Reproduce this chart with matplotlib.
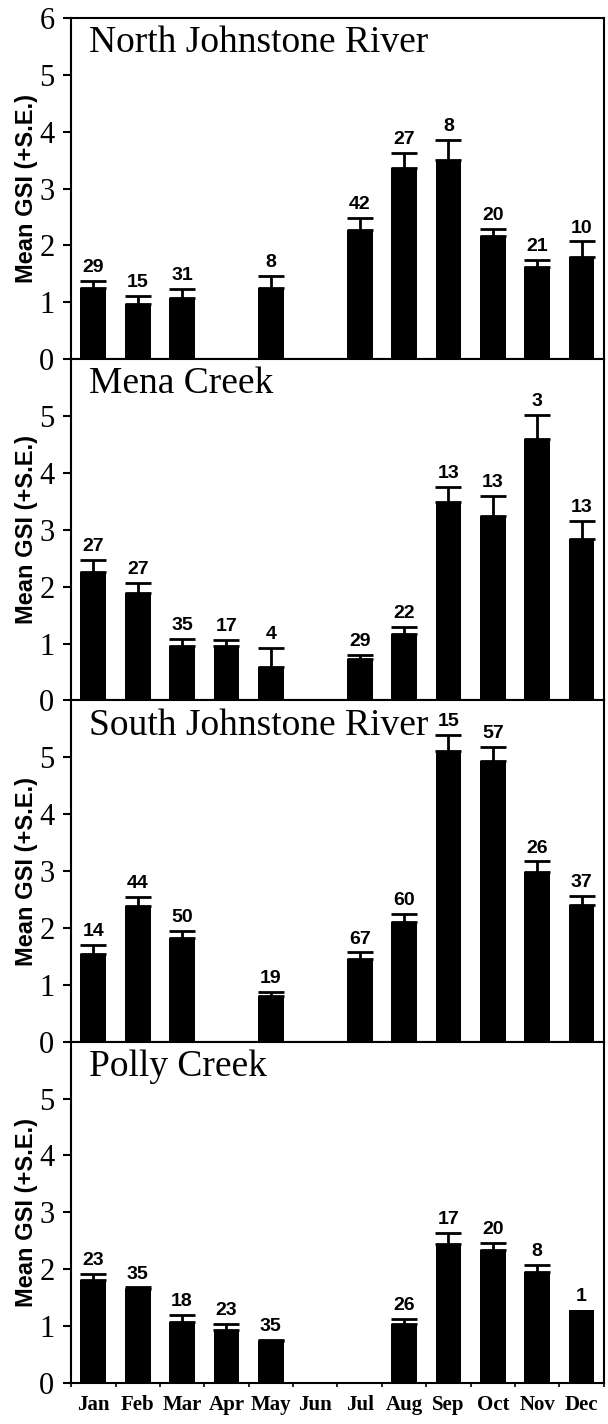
"""Monthly mean gonadosomatic index (GSI) at four rainforest stream sites.

Four stacked bar panels share the month axis; each bar carries an upper
standard-error whisker and the sample size printed above it.
"""

import matplotlib

matplotlib.use("Agg")

import matplotlib.pyplot as plt
import numpy as np

months = ["Jan", "Feb", "Mar", "Apr", "May", "Jun", "Jul", "Aug", "Sep", "Oct", "Nov", "Dec"]

north_mean = [1.26, 0.97, 1.07, None, 1.25, None, 2.28, 3.36, 3.50, 2.16, 1.62, 1.80]
north_se = [0.11, 0.14, 0.17, None, 0.21, None, 0.21, 0.27, 0.35, 0.13, 0.12, 0.27]
north_n = [29, 15, 31, None, 8, None, 42, 27, 8, 20, 21, 10]

mena_mean = [2.26, 1.89, 0.96, 0.95, 0.58, None, 0.73, 1.17, 3.49, 3.25, 4.60, 2.84]
mena_se = [0.21, 0.17, 0.12, 0.11, 0.35, None, 0.07, 0.13, 0.27, 0.34, 0.42, 0.32]
mena_n = [27, 27, 35, 17, 4, None, 29, 22, 13, 13, 3, 13]

south_mean = [1.55, 2.38, 1.82, None, 0.80, None, 1.46, 2.10, 5.11, 4.94, 2.99, 2.40]
south_se = [0.15, 0.16, 0.13, None, 0.07, None, 0.11, 0.14, 0.28, 0.24, 0.18, 0.17]
south_n = [14, 44, 50, None, 19, None, 67, 60, 15, 57, 26, 37]

polly_mean = [1.81, 1.66, 1.08, 0.94, 0.73, None, None, 1.03, 2.45, 2.33, 1.96, 1.29]
polly_se = [0.10, 0.02, 0.11, 0.10, 0.02, None, None, 0.10, 0.19, 0.14, 0.12, None]
polly_n = [23, 35, 18, 23, 35, None, None, 26, 17, 20, 8, 1]

sites = ["North Johnstone River", "Mena Creek", "South Johnstone River", "Polly Creek"]

SERIF = ["Liberation Serif", "DejaVu Serif"]
SANS = ["Liberation Sans", "DejaVu Sans"]


def _draw_panel(ax, title, means, ses, counts, top_panel=False):
    """Bars with upper S.E. whiskers and sample sizes for one site."""
    x = np.arange(len(months))
    keep = [i for i, m in enumerate(means) if m is not None]
    heights = [means[i] for i in keep]
    ax.bar(x[keep], heights, width=0.58, color="black", edgecolor="none", zorder=2)

    for i in keep:
        top = means[i]
        if ses[i] is not None:
            ax.errorbar(x[i], means[i], yerr=[[0], [ses[i]]], fmt="none", ecolor="black",
                        elinewidth=2, capsize=9.5, capthick=2, zorder=3)
            top = means[i] + ses[i]
        if counts[i] is not None:
            ax.annotate(str(counts[i]), (x[i], top), xytext=(0, 3.5), textcoords="offset points",
                        ha="center", va="bottom", fontsize=14, fontweight="bold", family=SANS)

    ax.set_xlim(-0.5, len(months) - 0.5)
    ax.set_ylim(0, 6)
    ax.set_yticks(range(0, 7 if top_panel else 6))
    for label in ax.get_yticklabels():
        label.set_family(SERIF)
        label.set_fontsize(22)
    ax.tick_params(axis="y", direction="out", length=6, width=1.5, pad=6)

    ax.set_xticks(x)
    ax.set_xticks(np.arange(-0.5, len(months)), minor=True)
    ax.tick_params(axis="x", which="major", length=0)
    ax.tick_params(axis="x", which="minor", direction="out", length=3, width=1.2)

    for spine in ax.spines.values():
        spine.set_linewidth(1.5)

    ax.text(0.034, 0.90, title, transform=ax.transAxes, ha="left", va="baseline",
            fontsize=27, family=SERIF)
    ax.text(-0.083, 0.5, "Mean GSI (+S.E.)", transform=ax.transAxes, rotation=90,
            ha="center", va="center", fontsize=17, fontweight="bold", family=SANS)


def main():
    fig = plt.figure(figsize=(6.08, 14.24), dpi=100)
    grid = fig.add_gridspec(4, 1, left=0.117, right=0.993, top=0.9874, bottom=0.0288, hspace=0)
    panels = [
        (north_mean, north_se, north_n),
        (mena_mean, mena_se, mena_n),
        (south_mean, south_se, south_n),
        (polly_mean, polly_se, polly_n),
    ]
    axes = []
    for row, (title, (means, ses, counts)) in enumerate(zip(sites, panels)):
        ax = fig.add_subplot(grid[row, 0])
        _draw_panel(ax, title, means, ses, counts, top_panel=(row == 0))
        axes.append(ax)

    for ax in axes[:-1]:
        ax.set_xticklabels([])
    axes[-1].set_xticklabels(months, family=SERIF, fontsize=15, fontweight="bold")
    axes[-1].tick_params(axis="x", which="major", pad=9)

    fig.savefig("out.png", dpi=100)
    plt.close(fig)


if __name__ == "__main__":
    main()
